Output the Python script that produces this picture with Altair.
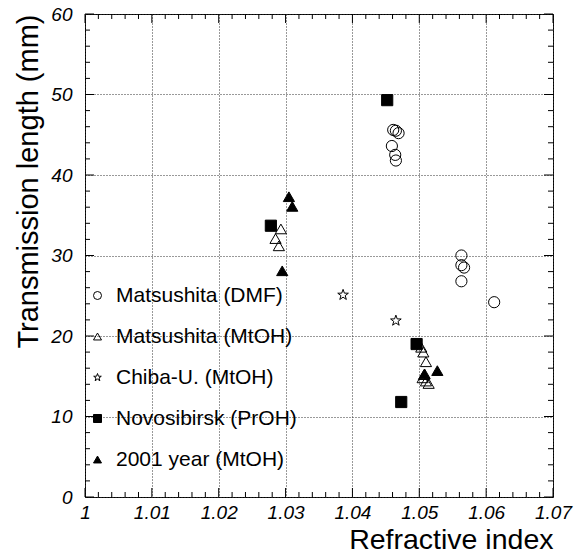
import altair as alt
import pandas as pd

series_names = ["Matsushita (DMF)", "Matsushita (MtOH)", "Chiba-U. (MtOH)",
                "Novosibirsk (PrOH)", "2001 year (MtOH)"]

dmf_x = [1.0461, 1.0465, 1.0469, 1.0459, 1.0464, 1.0465, 1.0563, 1.0563, 1.0567, 1.0563, 1.0612]
dmf_y = [45.6, 45.5, 45.2, 43.6, 42.5, 41.8, 30.0, 28.8, 28.5, 26.8, 24.2]

mtoh_x = [1.0293, 1.0285, 1.0290, 1.0503, 1.0506, 1.0510, 1.0507, 1.0505, 1.0510, 1.0514]
mtoh_y = [33.3, 32.1, 31.2, 18.6, 18.0, 16.8, 15.2, 14.8, 14.4, 14.1]

chiba_x = [1.0386, 1.0465]
chiba_y = [25.1, 21.9]

novo_x = [1.0452, 1.0278, 1.0496, 1.0473]
novo_y = [49.3, 33.7, 19.0, 11.8]

y2001_x = [1.0305, 1.0310, 1.0295, 1.0508, 1.0527]
y2001_y = [37.3, 36.1, 28.1, 15.3, 15.7]

x_major = [1.00, 1.01, 1.02, 1.03, 1.04, 1.05, 1.06, 1.07]
x_minor = [1.002, 1.004, 1.006, 1.008, 1.012, 1.014, 1.016, 1.018,
           1.022, 1.024, 1.026, 1.028, 1.032, 1.034, 1.036, 1.038,
           1.042, 1.044, 1.046, 1.048, 1.052, 1.054, 1.056, 1.058,
           1.062, 1.064, 1.066, 1.068]
y_major = [0, 10, 20, 30, 40, 50, 60]
y_minor = [2, 4, 6, 8, 12, 14, 16, 18, 22, 24, 26, 28, 32, 34, 36, 38,
           42, 44, 46, 48, 52, 54, 56, 58]

rows = []
for name, xs, ys in zip(series_names,
                        [dmf_x, mtoh_x, chiba_x, novo_x, y2001_x],
                        [dmf_y, mtoh_y, chiba_y, novo_y, y2001_y]):
    for xv, yv in zip(xs, ys):
        rows.append({"series": name, "n": xv, "L": yv})
df = pd.DataFrame(rows)

W, H = 468, 483
FONT = "Liberation Sans"
x_scale = alt.Scale(domain=[1.0, 1.07], nice=False, zero=False)
y_scale = alt.Scale(domain=[0, 60], nice=False, zero=False)

STAR = ("M0,-1L0.235,-0.324L0.951,-0.309L0.38,0.124L0.588,0.809L0,0.4"
        "L-0.588,0.809L-0.38,0.124L-0.951,-0.309L-0.235,-0.324Z")

shape_scale = alt.Scale(domain=series_names,
                        range=["circle", "triangle-up", STAR, "square", "triangle-up"])
fill_scale = alt.Scale(domain=series_names,
                       range=["transparent", "transparent", "transparent", "black", "black"])
stroke_scale = alt.Scale(domain=series_names, range=["black"] * 5)

legend = alt.Legend(title=None, orient="none", legendX=2, legendY=271,
                    labelFontSize=21, labelFont=FONT, labelColor="black", labelLimit=0,
                    symbolSize=64, symbolStrokeColor="black", symbolStrokeWidth=1,
                    rowPadding=19, labelOffset=8, padding=0, symbolOffset=0)

x_axis = alt.Axis(values=x_major, format="~g", labelFontSize=19, labelFontStyle="italic",
                  labelFont=FONT, labelColor="black", labelPadding=6, ticks=False,
                  domain=False, grid=True, gridDash=[1, 2], gridColor="#333",
                  labelFlush=False, labelOverlap=False,
                  title="Refractive index", titleFont=FONT, titleFontSize=28.5,
                  titleFontWeight="normal", titleColor="black", titleAlign="right",
                  titleAnchor="end", titleX=W, titleY=51, titleBaseline="alphabetic")
y_axis = alt.Axis(values=y_major, format="d", labelFontSize=19, labelFontStyle="italic",
                  labelFont=FONT, labelColor="black", labelPadding=13, ticks=False,
                  domain=False, grid=True, gridDash=[1, 2], gridColor="#333",
                  labelFlush=False, labelOverlap=False,
                  title="Transmission length (mm)", titleFont=FONT, titleFontSize=29,
                  titleFontWeight="normal", titleColor="black", titleAlign="right",
                  titleAnchor="end", titleAngle=270, titleX=-48, titleY=0,
                  titleBaseline="alphabetic")

points = alt.Chart(df).mark_point(strokeWidth=1, opacity=1, size=125).encode(
    x=alt.X("n:Q", scale=x_scale, axis=x_axis),
    y=alt.Y("L:Q", scale=y_scale, axis=y_axis),
    shape=alt.Shape("series:N", scale=shape_scale, legend=legend, sort=series_names),
    fill=alt.Fill("series:N", scale=fill_scale, legend=legend, sort=series_names),
    stroke=alt.Stroke("series:N", scale=stroke_scale, legend=legend, sort=series_names),
)


def xticks(vals, length):
    d = pd.DataFrame({"v": vals})
    base = alt.Chart(d).mark_rule(color="black", strokeWidth=1)
    bottom = base.encode(x=alt.X("v:Q", scale=x_scale, axis=x_axis),
                         y=alt.value(H), y2=alt.value(H - length))
    top = base.encode(x=alt.X("v:Q", scale=x_scale, axis=x_axis),
                      y=alt.value(0), y2=alt.value(length))
    return [bottom, top]


def yticks(vals, length):
    d = pd.DataFrame({"v": vals})
    base = alt.Chart(d).mark_rule(color="black", strokeWidth=1)
    left = base.encode(y=alt.Y("v:Q", scale=y_scale, axis=y_axis),
                       x=alt.value(0), x2=alt.value(length))
    right = base.encode(y=alt.Y("v:Q", scale=y_scale, axis=y_axis),
                        x=alt.value(W), x2=alt.value(W - length))
    return [left, right]


layers = [points] + xticks(x_major, 9) + xticks(x_minor, 5) + yticks(y_major, 9) + yticks(y_minor, 5)

chart = alt.layer(*layers).properties(
    width=W, height=H,
    padding={"left": 85, "top": 14, "right": 28, "bottom": 59},
    autosize=alt.AutoSizeParams(type="none"),
    background="white",
).configure_view(stroke="black", strokeWidth=1)

chart.save("out.html", embed_options={"renderer": "svg", "actions": False})
